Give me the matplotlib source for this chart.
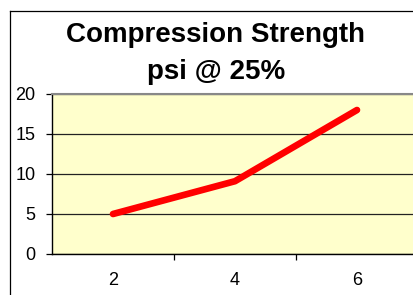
import matplotlib
matplotlib.use("Agg")
import matplotlib.pyplot as plt
from matplotlib.lines import Line2D

categories = ["2", "4", "6"]
values = [5, 9.1, 18]
yticks = [0, 5, 10, 15, 20]

W, H = 414, 295
fig = plt.figure(figsize=(W / 100, H / 100), dpi=100)
fig.patch.set_facecolor("white")

# chart frame (extends beyond the image on right and bottom)
fig.add_artist(Line2D([9.5 / W, 9.5 / W], [0, 1 - 10.5 / H], transform=fig.transFigure, color="black", lw=0.9))
fig.add_artist(Line2D([9.5 / W, 1], [1 - 10.5 / H, 1 - 10.5 / H], transform=fig.transFigure, color="black", lw=0.9))

left, right, top, bottom = 52, 418, 94, 254
ax = fig.add_axes([left / W, (H - bottom) / H, (right - left) / W, (bottom - top) / H])
ax.set_facecolor("#FFFFCC")

x = list(range(len(categories)))
ax.plot(x, values, color="#FF0000", lw=4.8, solid_capstyle="round", solid_joinstyle="round", zorder=3)

ax.set_xlim(-0.5, len(categories) - 0.5)
ax.set_ylim(0, 20)
ax.set_yticks(yticks)
ax.set_yticklabels([str(v) for v in yticks])
ax.set_xticks([i + 0.5 for i in x])
ax.set_xticklabels([])
ax.set_xticks(x, minor=True)
ax.set_xticklabels(categories, minor=True)
ax.tick_params(axis="x", which="minor", length=0, pad=13, labelsize=13)
ax.tick_params(axis="x", which="major", length=4, width=0.9, direction="out", color="black")
ax.tick_params(axis="y", length=4, width=0.9, direction="out", labelsize=13, pad=8)
for lab in ax.get_yticklabels() + ax.get_xticklabels(minor=True):
    lab.set_fontfamily("Liberation Sans")

ax.grid(axis="y", color="#222222", lw=0.9)
ax.set_axisbelow(True)
for s in ["top", "right"]:
    ax.spines[s].set_color("#888888")
    ax.spines[s].set_linewidth(1.5)
for s in ["left", "bottom"]:
    ax.spines[s].set_color("black")
    ax.spines[s].set_linewidth(1.0)

fig.text(216 / W, 1 - 42 / H, "Compression Strength", ha="center", va="baseline",
         fontsize=20, fontweight="bold", family="Liberation Sans")
fig.text(216 / W, 1 - 79 / H, "psi @ 25%", ha="center", va="baseline",
         fontsize=20, fontweight="bold", family="Liberation Sans")

fig.savefig("out.png", dpi=100)
